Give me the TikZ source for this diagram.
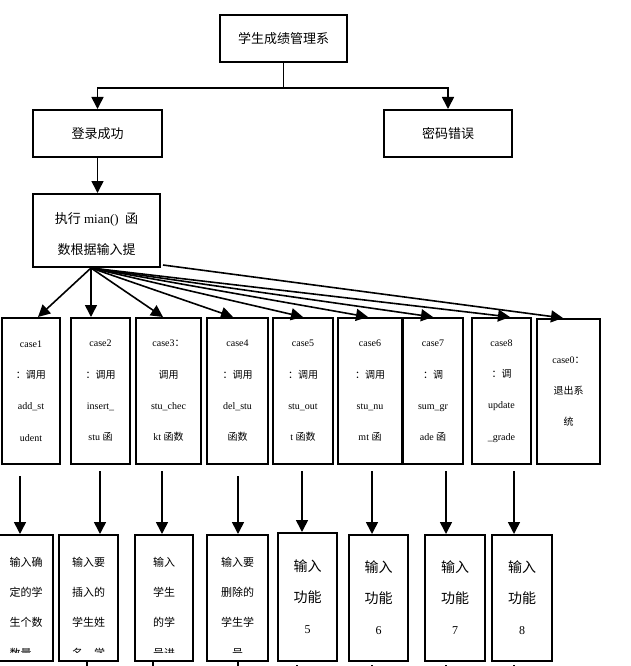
\documentclass[tikz,border=0pt]{standalone}
\usepackage{fontspec}
\setmainfont{Liberation Serif}
\newfontfamily\zhfont{Noto Sans CJK SC}
\newcommand{\zh}[1]{{\zhfont #1}}
\usetikzlibrary{arrows.meta}
\begin{document}
\begin{tikzpicture}[x=1pt,y=-1pt,
  box/.style={draw, line width=2pt, inner sep=0pt},
  arr/.style={line width=1.6pt, -{Triangle[length=12pt,width=12pt]}},
  ln/.style={line width=1.6pt},
  casetxt/.style={align=center, font=\fontsize{10}{31.3}\selectfont},
  bigtxt/.style={font=\zhfont\fontsize{13}{13}\selectfont},
  lowtxt/.style={align=center, font=\zhfont\fontsize{11}{30.3}\selectfont},
  funtxt/.style={align=center, font=\fontsize{14}{31}\selectfont},
]
\useasboundingbox (0,0) rectangle (630,666);

% top part
\node[box, minimum width=127pt, minimum height=47pt, bigtxt] (top) at (283.5,38.5) {学生成绩管理系};
\node[box, minimum width=129pt, minimum height=47pt, bigtxt] (login) at (97.5,133.5) {登录成功};
\node[box, minimum width=128pt, minimum height=47pt, bigtxt] (pwd) at (448,133.5) {密码错误};
\node[box, minimum width=127pt, minimum height=73pt] (exec) at (96.5,230.5) {};
\node[align=center, font=\fontsize{13}{31}\selectfont] (exect) at (96.5,234.5) {\zh{执行} mian()\ \ \zh{函}\\\zh{数根据输入提}};

\draw[ln] (top.south) -- ++(0,25) coordinate (j);
\draw[arr] (j) -| (login.north);
\draw[arr] (j) -| (pwd.north);
\draw[arr] (login.south) -- (login.south |- exec.north);

% case boxes
\node[box, minimum width=58pt, minimum height=146pt, casetxt] (c1) at (31,391) {case1\\\zh{：调用}\\add\_st\\udent};
\node[box, minimum width=59pt, minimum height=146pt, casetxt] (c2) at (100.5,391) {case2\\\zh{：调用}\\insert\_\\stu \zh{函}};
\node[box, minimum width=65pt, minimum height=146pt, casetxt] (c3) at (168.5,391) {case3\zh{：}\\\zh{调用}\\stu\_chec\\kt \zh{函数}};
\node[box, minimum width=61pt, minimum height=146pt, casetxt] (c4) at (237.5,391) {case4\\\zh{：调用}\\del\_stu\\\zh{函数}};
\node[box, minimum width=60pt, minimum height=146pt, casetxt] (c5) at (303,391) {case5\\\zh{：调用}\\stu\_out\\t \zh{函数}};
\node[box, minimum width=64pt, minimum height=146pt, casetxt] (c6) at (370,391) {case6\\\zh{：调用}\\stu\_nu\\mt \zh{函}};
\node[box, minimum width=60pt, minimum height=146pt, casetxt] (c7) at (433,391) {case7\\\zh{：调}\\sum\_gr\\ade \zh{函}};
\node[box, minimum width=59pt, minimum height=146pt, casetxt] (c8) at (501.5,391) {case8\\\zh{：调}\\update\\\_grade};
\node[box, minimum width=63pt, minimum height=145pt, casetxt] (c0) at (568.5,391.5) {case0\zh{：}\\\zh{退出系}\\\zh{统}};

\draw[arr] ([xshift=-5.5pt]exec.south) -- ([xshift=7pt]c1.north);
\draw[arr] ([xshift=-5.5pt]exec.south) -- ([xshift=-9.5pt]c2.north);
\draw[arr] ([xshift=-5.5pt]exec.south) -- ([xshift=-5.5pt]c3.north);
\draw[arr] ([xshift=-5.5pt]exec.south) -- ([xshift=-4.5pt]c4.north);
\draw[arr] ([xshift=-5.5pt]exec.south) -- (c5.north);
\draw[arr] ([xshift=-5.5pt]exec.south) -- ([xshift=-2pt]c6.north);
\draw[arr] ([xshift=-5.5pt]exec.south) -- (c7.north);
\draw[arr] ([xshift=-5.5pt]exec.south) -- ([xshift=8.5pt]c8.north);
\draw[arr] ([xshift=2pt,yshift=3pt]exec.south east) -- ([xshift=-5.5pt]c0.north);

% bottom boxes
\node[box, minimum width=54pt, minimum height=126pt] (b1) at (26,598) {};
\node[box, minimum width=59pt, minimum height=126pt] (b2) at (88.5,598) {};
\node[box, minimum width=58pt, minimum height=126pt] (b3) at (164,598) {};
\node[box, minimum width=61pt, minimum height=126pt] (b4) at (237.5,598) {};
\node[box, minimum width=59pt, minimum height=128pt, funtxt] (b5) at (307.5,597) {\zh{输入}\\\zh{功能}\\{\fontsize{12}{12}\selectfont 5}};
\node[box, minimum width=59pt, minimum height=126pt, funtxt] (b6) at (378.5,598) {\zh{输入}\\\zh{功能}\\{\fontsize{12}{12}\selectfont 6}};
\node[box, minimum width=60pt, minimum height=126pt, funtxt] (b7) at (455,598) {\zh{输入}\\\zh{功能}\\{\fontsize{12}{12}\selectfont 7}};
\node[box, minimum width=60pt, minimum height=126pt, funtxt] (b8) at (522,598) {\zh{输入}\\\zh{功能}\\{\fontsize{12}{12}\selectfont 8}};

\begin{scope}
  \clip (-5,537) rectangle (630,652);
  \node[lowtxt] (t1) at (26,607.5) {输入确\\定的学\\生个数\\数量，};
  \node[lowtxt] (t2) at (88.5,607.5) {输入要\\插入的\\学生姓\\名，学};
  \node[lowtxt] (t3) at (164,607.5) {输入\\学生\\的学\\号进};
  \node[lowtxt] (t4) at (237.5,607.5) {输入要\\删除的\\学生学\\号};
\end{scope}

% arrows between rows
\draw[arr] ([xshift=-11pt,yshift=-11pt]c1.south) -- ([xshift=-6pt]b1.north);
\draw[arr] ([xshift=-0.5pt,yshift=-6pt]c2.south) -- ([xshift=11.5pt]b2.north);
\draw[arr] ([xshift=-6.5pt,yshift=-6pt]c3.south) -- ([xshift=-2pt]b3.north);
\draw[arr] ([xshift=0.5pt,yshift=-11pt]c4.south) -- ([xshift=0.5pt]b4.north);
\draw[arr] ([xshift=-1pt,yshift=-6pt]c5.south) -- ([xshift=-5.5pt]b5.north);
\draw[arr] ([xshift=2pt,yshift=-6pt]c6.south) -- ([xshift=-6.5pt]b6.north);
\draw[arr] ([xshift=13pt,yshift=-6pt]c7.south) -- ([xshift=-9pt]b7.north);
\draw[arr] ([xshift=12.5pt,yshift=-6pt]c8.south) -- ([xshift=-8pt]b8.north);

% stubs leaving the picture
\draw[ln] ([xshift=-1.5pt]b2.south) -- ++(0,10) coordinate (e2);
\draw[ln] ([xshift=-11pt]b3.south) -- ++(0,10) coordinate (e3);
\draw[ln] ([xshift=0.5pt]b4.south) -- ++(0,10) coordinate (e4);
\draw[ln] ([xshift=-10.5pt,yshift=-3pt]b5.south) -- ++(0,10) coordinate (e5);
\draw[ln] ([xshift=-6.5pt,yshift=-3pt]b6.south) -- ++(0,10) coordinate (e6);
\draw[ln] ([xshift=-9pt,yshift=-3pt]b7.south) -- ++(0,10) coordinate (e7);
\draw[ln] ([xshift=-8pt,yshift=-3pt]b8.south) -- ++(0,10) coordinate (e8);
\end{tikzpicture}
\end{document}
